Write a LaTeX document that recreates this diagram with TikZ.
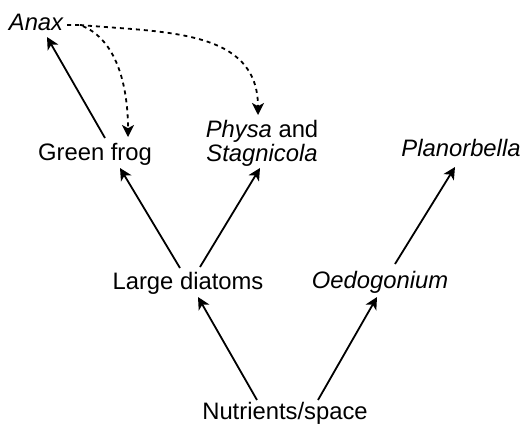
\documentclass[tikz,border=0pt]{standalone}
\usepackage{fontspec}
\setmainfont{Liberation Sans}
\usetikzlibrary{arrows.meta}
\begin{document}
\begin{tikzpicture}[x=0.5pt, y=-0.5pt,
    every node/.style={font=\fontsize{11.9}{10.8}\selectfont, inner sep=0pt},
    lbl/.style={anchor=base},
    sp/.style={font=\fontsize{11.9}{10.8}\selectfont\itshape},
    eats/.style={-{Stealth[length=6pt, width=6pt, inset=1.6pt]}, line width=0.9pt},
    effect/.style={eats, dash pattern=on 2pt off 2pt}]
  \useasboundingbox(0, 0) rectangle (522, 425);
  \node[lbl, sp](anax) at (36, 30) {Anax};
  \node[lbl](frog) at (95, 160) {Green frog};
  \node[align=center](physa) at (262, 143) {\textit{Physa} and\\\textit{Stagnicola}};
  \node[lbl, sp](planorb) at (461, 156) {Planorbella};
  \node[lbl](diatoms) at (188, 289) {Large diatoms};
  \node[lbl, sp](oedo) at (380, 288) {Oedogonium};
  \node[lbl](nutri) at (285, 419) {Nutrients/space};
  \draw[eats]([shift={(10, -22)}]frog.base) to ([shift={(11, 7)}]anax.base);
  \draw[eats]([shift={(-8, -21)}]diatoms.base) to ([shift={(25, 8)}]frog.base);
  \draw[eats]([shift={(12, -22)}]diatoms.base) to ([shift={(-2, 25)}]physa.center);
  \draw[eats]([shift={(-28, -19)}]nutri.base) to ([shift={(10, 8)}]diatoms.base);
  \draw[eats]([shift={(33, -19)}]nutri.base) to ([shift={(-3, 9)}]oedo.base);
  \draw[eats]([shift={(15, -24)}]oedo.base) to ([shift={(-6, 11)}]planorb.base);
  \coordinate(fork) at ([shift={(44, -5)}]anax.base);
  \draw[effect]([shift={(31, -5)}]anax.base) -- (fork)
    to[out=-20, in=90, looseness=0.9] ([shift={(33, -23)}]frog.base);
  \draw[effect](fork) to[out=-5, in=90, looseness=1.1] ([shift={(-4, -28)}]physa.center);
\end{tikzpicture}
\end{document}
